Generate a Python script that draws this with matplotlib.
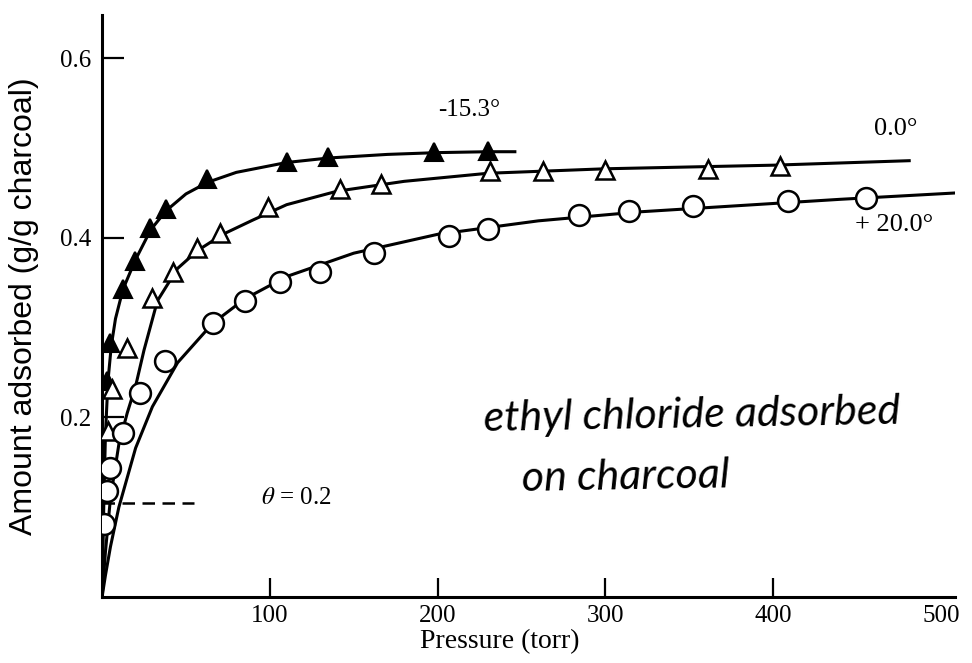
import matplotlib
matplotlib.use("Agg")
import matplotlib.pyplot as plt

neg15_x = [3, 4.8, 12.5, 19.6, 28.6, 38, 62.5, 110, 134.5, 198, 230]
neg15_y = [0.241, 0.283, 0.343, 0.374, 0.411, 0.432, 0.466, 0.484, 0.490, 0.496, 0.497]

zero_x = [3.5, 6, 15, 30, 42, 56.5, 70, 99, 142, 166, 231, 263, 300, 361, 404]
zero_y = [0.185, 0.232, 0.277, 0.333, 0.362, 0.389, 0.406, 0.434, 0.455, 0.460,
          0.474, 0.475, 0.476, 0.477, 0.480]

plus20_x = [1, 3, 4.8, 12.5, 22.6, 37.5, 66, 85, 106, 130, 162, 207, 230, 284,
            314, 352, 409, 455]
plus20_y = [0.081, 0.118, 0.144, 0.183, 0.227, 0.263, 0.305, 0.330, 0.351, 0.362,
            0.383, 0.402, 0.410, 0.425, 0.430, 0.435, 0.441, 0.445]

# smooth curves as drawn
neg15_cx = [0, 1, 2, 3.5, 5.5, 8, 12.5, 20, 29, 38, 50, 63, 80, 110, 135, 170, 200, 230, 246]
neg15_cy = [0, 0.10, 0.18, 0.24, 0.28, 0.31, 0.343, 0.376, 0.409, 0.430, 0.449, 0.462,
            0.473, 0.484, 0.489, 0.493, 0.495, 0.496, 0.496]

zero_cx = [0, 2, 5, 10, 15, 20, 25, 33, 45, 57, 72, 90, 110, 140, 180, 230, 300, 400, 481]
zero_cy = [0, 0.05, 0.11, 0.17, 0.205, 0.235, 0.275, 0.330, 0.366, 0.386, 0.404, 0.420,
           0.437, 0.452, 0.463, 0.472, 0.477, 0.481, 0.486]

plus20_cx = [0, 2, 5, 10, 20, 30, 45, 66, 85, 110, 150, 200, 260, 320, 380, 440, 508]
plus20_cy = [0, 0.024, 0.056, 0.100, 0.166, 0.212, 0.261, 0.305, 0.332, 0.357, 0.383,
             0.404, 0.419, 0.429, 0.436, 0.443, 0.450]

theta_x = [0, 55]
theta_y = [0.105, 0.105]

x_ticks = [100, 200, 300, 400, 500]
y_ticks = [0.2, 0.4, 0.6]

serif = "Liberation Serif"
plt.rcParams["mathtext.fontset"] = "stix"

fig = plt.figure(figsize=(9.72, 6.63), dpi=100)
ax = fig.add_axes([0.105, 0.0995, 0.877, 0.8775])
ax.set_xlim(0, 508)
ax.set_ylim(0, 0.648)

lw = 2.2
ax.plot(neg15_cx, neg15_cy, color="black", lw=lw, zorder=2)
ax.plot(zero_cx, zero_cy, color="black", lw=lw, zorder=2)
ax.plot(plus20_cx, plus20_cy, color="black", lw=lw, zorder=2)

ax.plot(neg15_x, neg15_y, ls="none", marker="^", ms=13, mfc="black", mec="black",
        mew=1.5, zorder=3)
ax.plot(zero_x, zero_y, ls="none", marker="^", ms=13, mfc="white", mec="black",
        mew=1.8, zorder=3)
ax.plot(plus20_x, plus20_y, ls="none", marker="o", ms=15, mfc="white", mec="black",
        mew=1.8, zorder=3)

ax.plot(theta_x, theta_y, color="black", lw=1.8, ls=(0, (5, 3)), zorder=1)
ax.text(95, 0.110, r"$\theta$ = 0.2", fontsize=18, va="center", ha="left",
        family=serif)

ax.text(219, 0.543, "-15.3°", fontsize=18, ha="center", va="center", family=serif)
ax.text(473, 0.521, "0.0°", fontsize=19, ha="center", va="center", family=serif)
ax.text(472, 0.414, "+ 20.0°", fontsize=19, ha="center", va="center", family=serif)

# handwritten note
ax.text(227, 0.185, "ethyl chloride adsorbed", fontsize=31, ha="left", va="baseline",
        family="Lato", style="italic", rotation=1)
ax.text(250, 0.118, "on charcoal", fontsize=31, ha="left", va="baseline",
        family="Lato", style="italic", rotation=1)

for s in ["top", "right"]:
    ax.spines[s].set_visible(False)
for s in ["left", "bottom"]:
    ax.spines[s].set_linewidth(2.2)

ax.set_xticks(x_ticks)
ax.set_xticklabels([str(v) for v in x_ticks], family=serif, fontsize=18)
ax.set_yticks(y_ticks)
ax.set_yticklabels([f"{v:.1f}" for v in y_ticks], family=serif, fontsize=18)
ax.tick_params(axis="x", direction="in", length=14, width=1.6, pad=6)
ax.tick_params(axis="y", direction="in", length=16, width=1.6, pad=8)
ax.xaxis.get_major_ticks()[-1].tick1line.set_visible(False)

ax.set_xlabel("Pressure (torr)", family=serif, fontsize=20, labelpad=4)
ax.xaxis.set_label_coords(0.467, -0.055)
ax.set_ylabel("Amount adsorbed (g/g charcoal)", family="Liberation Sans", fontsize=23)
ax.yaxis.set_label_coords(-0.074, 0.5)

fig.savefig("out.png", dpi=100)
